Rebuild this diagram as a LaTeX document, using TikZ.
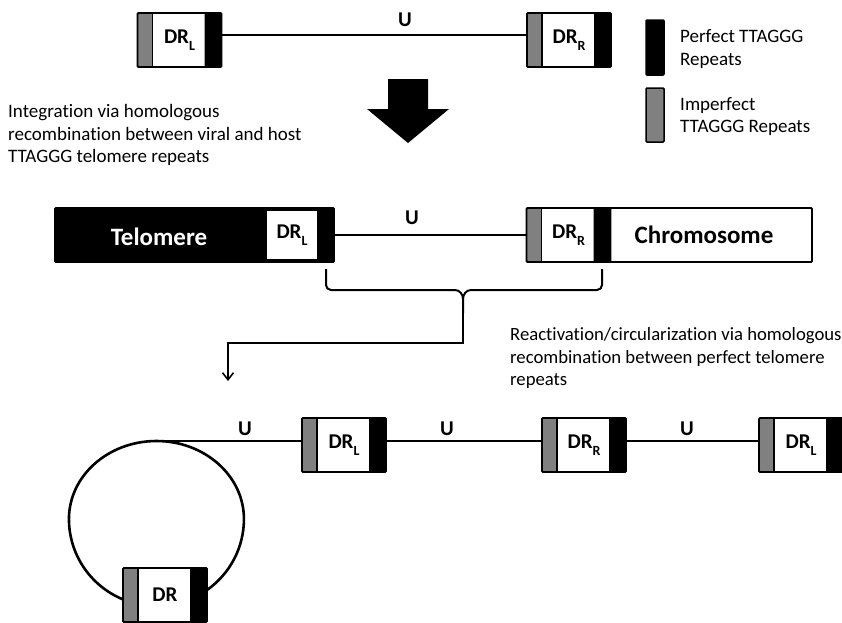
\documentclass[tikz,border=0pt]{standalone}
\usepackage{fontspec}
\setmainfont{Carlito}[RawFeature={-liga;-calt;-clig}]
\usetikzlibrary{arrows.meta,calc}
\newcommand\mysubs[1]{\raisebox{-0.32em}{\fontsize{14}{14}\selectfont #1}}
\tikzset{
  x=1pt, y=1pt,
  dr/.style={draw, line width=1.8pt, minimum width=84pt, minimum height=54pt,
    inner sep=0pt, rounded corners=1pt, fill=white,
    font={\fontsize{21}{24}\selectfont\bfseries},
    path picture={
      \fill[gray] (path picture bounding box.south west) rectangle ([xshift=15pt]path picture bounding box.north west);
      \draw[line width=1.2pt] ([xshift=15pt]path picture bounding box.south west) -- ([xshift=15pt]path picture bounding box.north west);
      \fill[black] ([xshift=-17pt]path picture bounding box.south east) rectangle (path picture bounding box.north east);
    }},
  dna/.style={line width=2.6pt},
  ulabel/.style={inner sep=0pt, font={\fontsize{21}{24}\selectfont\bfseries}},
  txt/.style={inner sep=0pt, align=left, anchor=west, font={\fontsize{19}{22.5}\selectfont}},
  bigname/.style={inner sep=0pt, font={\fontsize{25}{28}\selectfont\bfseries}},
}
\begin{document}
\begin{tikzpicture}
\useasboundingbox (0,0) rectangle (842,-622);

% ---------- row 1 ----------
\node[dr] (b1) at (179.5,-40) {DR\mysubs{L}};
\node[dr] (b2) at (569,-40) {DR\mysubs{R}};
\draw[dna] ([yshift=5pt]b1.east) -- ([yshift=5pt]b2.west);
\node[ulabel] (u1) at (405,-20) {U};

% legend
\node[draw, line width=1.5pt, fill=black, rounded corners=1pt, minimum width=18pt, minimum height=55pt, inner sep=0pt] (legp) at (655,-47.5) {};
\node[draw, line width=1.5pt, fill=gray, rounded corners=1pt, minimum width=18pt, minimum height=54pt, inner sep=0pt] (legi) at (655,-115) {};
\node[txt] (legpt) at (680,-49) {Perfect TTAGGG\\Repeats};
\node[txt] (legit) at (680,-116.5) {Imperfect\\TTAGGG Repeats};

% big arrow
\fill (388,-79) -- (428,-79) -- (428,-109) -- (449,-109) -- (408,-143) -- (367,-109) -- (388,-109) -- cycle;

\node[txt] (t1) at (8,-135) {Integration via homologous\\recombination between viral and host\\TTAGGG telomere repeats};

% ---------- row 2 ----------
\node[draw, line width=1.8pt, fill=black, rounded corners=1pt, minimum width=279pt, minimum height=54pt, inner sep=0pt] (tel) at (194.5,-235) {};
\node[fill=white, minimum width=50pt, minimum height=48pt, inner sep=0pt, font={\fontsize{21}{24}\selectfont\bfseries}] (telL) at (292,-235) {DR\mysubs{L}};
\node[bigname, text=white] (telname) at (159,-237) {Telomere};
\node[draw, line width=1.8pt, fill=white, rounded corners=1pt, minimum width=202pt, minimum height=54pt, inner sep=0pt] (chr) at (711,-235) {};
\node[dr] (b4) at (568.5,-235) {DR\mysubs{R}};
\node[bigname] (chrname) at (704,-235) {Chromosome};
\draw[dna] (tel.east) -- (b4.west);
\node[ulabel] (u2) at (412,-218) {U};

% brace
\coordinate (bl) at (326,-269);
\coordinate (br) at (602,-269);
\coordinate (cusp) at (463,-313);
\draw[line width=2pt] (bl) -- (326,-285) to[out=-90,in=180] (331,-290) -- (455,-290) to[out=0,in=90] (463,-299) -- (cusp);
\draw[line width=2pt] (br) -- (602,-285) to[out=-90,in=0] (597,-290) -- (471,-290) to[out=180,in=90] (463,-299);
\coordinate (aend) at (228,-381);
\draw[line width=1.6pt, -{Straight Barb[length=7pt,width=11pt]}] (cusp) -- (463,-343) -| (aend);

\node[txt, font={\fontsize{18.7}{22.5}\selectfont}] (t2) at (510,-358.5) {Reactivation/circularization via homologous\\recombination between perfect telomere\\repeats};

% ---------- row 3 ----------
\node[dr] (c1) at (344,-445) {DR\mysubs{L}};
\node[dr] (c2) at (584,-445) {DR\mysubs{R}};
\node[dr] (c3) at (801,-445) {DR\mysubs{L}};
\node[dr] (c0) at (165,-595) {DR};
\coordinate (looptop) at (156.5,-441);
\draw[dna] (207,-590) arc[start angle=305.3, end angle=360, x radius=87.5pt, y radius=87pt]
  arc[start angle=0, end angle=180, x radius=87.5pt, y radius=78pt]
  arc[start angle=180, end angle=247.5, x radius=87.5pt, y radius=87pt];
\draw[dna] (looptop) -- ([yshift=4pt]c1.west);
\draw[dna] ([yshift=4pt]c1.east) -- ([yshift=4pt]c2.west);
\draw[dna] ([yshift=4pt]c2.east) -- ([yshift=4pt]c3.west);
\node[ulabel] (u3) at (245,-429) {U};
\node[ulabel] (u4) at (447,-429) {U};
\node[ulabel] (u5) at (687,-429) {U};
\end{tikzpicture}
\end{document}
